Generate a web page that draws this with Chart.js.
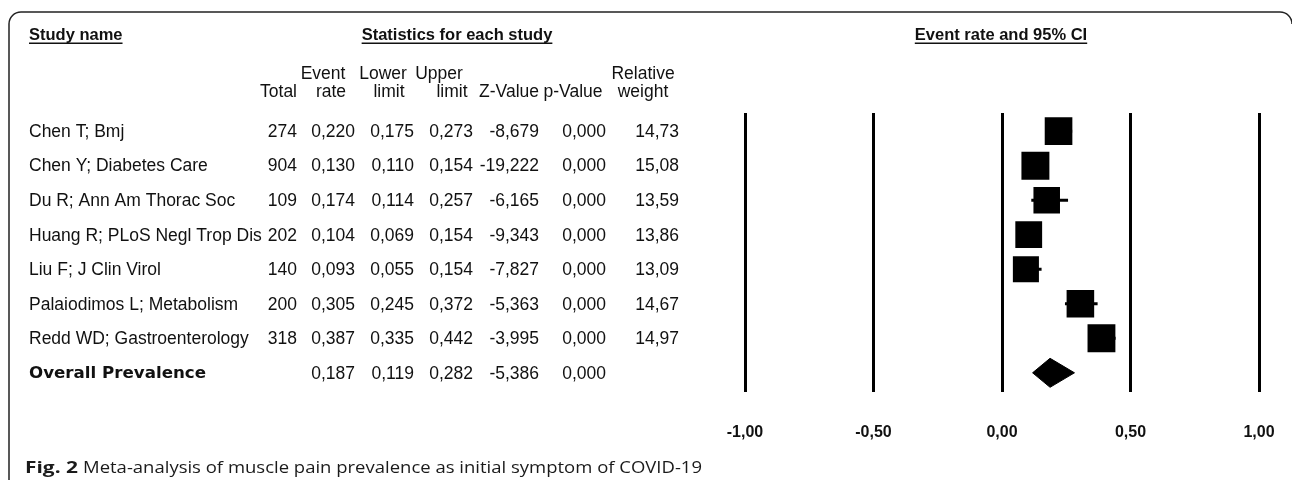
<!DOCTYPE html>
<html>
<head>
<meta charset="utf-8">
<script src="https://cdn.jsdelivr.net/npm/chart.js@4.4.1/dist/chart.umd.min.js"></script>
<style>
html,body{margin:0;padding:0;background:#fff;overflow:hidden}
canvas{display:block}
</style>
</head>
<body>
<canvas id="c" width="1292" height="480" style="width:1292px;height:480px"></canvas>
<script>
// ---- data ----
const studyNames = [
  'Chen T; Bmj',
  'Chen Y; Diabetes Care',
  'Du R; Ann Am Thorac Soc',
  'Huang R; PLoS Negl Trop Dis',
  'Liu F; J Clin Virol',
  'Palaiodimos L; Metabolism',
  'Redd WD; Gastroenterology'
];
const totals = [274, 904, 109, 202, 140, 200, 318];
const eventRates = [0.220, 0.130, 0.174, 0.104, 0.093, 0.305, 0.387];
const lowerLimits = [0.175, 0.110, 0.114, 0.069, 0.055, 0.245, 0.335];
const upperLimits = [0.273, 0.154, 0.257, 0.154, 0.154, 0.372, 0.442];
const zValues = [-8.679, -19.222, -6.165, -9.343, -7.827, -5.363, -3.995];
const pValues = [0.000, 0.000, 0.000, 0.000, 0.000, 0.000, 0.000];
const relWeights = [14.73, 15.08, 13.59, 13.86, 13.09, 14.67, 14.97];
const overallLabel = 'Overall Prevalence';
const overallRate = 0.187;
const overallLower = 0.119;
const overallUpper = 0.282;
const overallZ = -5.386;
const overallP = 0.000;
const tickValues = [-1, -0.5, 0, 0.5, 1];
const tickLabels = ['-1,00', '-0,50', '0,00', '0,50', '1,00'];

// ---- helpers ----
const fmt3 = v => v.toFixed(3).replace('.', ',');
const fmt2 = v => v.toFixed(2).replace('.', ',');
const INK = '#111';
const overallRow = studyNames.length;

// ---- datasets ----
const datasets = [];
studyNames.forEach((n, i) => {
  datasets.push({
    label: 'ci' + i,
    data: [{x: lowerLimits[i], y: i}, {x: upperLimits[i], y: i}],
    showLine: true,
    borderColor: '#000',
    borderWidth: 3,
    pointRadius: 0,
    tension: 0,
    fill: false
  });
});
datasets.push({
  label: 'studies',
  data: eventRates.map((v, i) => ({x: v, y: i})),
  pointStyle: 'rect',
  pointRadius: relWeights.map(w => 7.2 * Math.sqrt(w) / Math.SQRT2),
  backgroundColor: '#000',
  borderWidth: 0,
  showLine: false
});
const dh = 0.42;
datasets.push({
  label: 'overall',
  data: [
    {x: overallLower, y: overallRow},
    {x: overallRate, y: overallRow - dh},
    {x: overallUpper, y: overallRow},
    {x: overallRate, y: overallRow + dh},
    {x: overallLower, y: overallRow}
  ],
  showLine: true,
  tension: 0,
  borderColor: '#000',
  borderWidth: 1,
  backgroundColor: '#000',
  fill: 'shape',
  pointRadius: 0
});

// ---- text/table plugin ----
function fitText(ctx, text, x, y, width, align) {
  const m = ctx.measureText(text).width;
  const s = width / m;
  ctx.save();
  ctx.textAlign = 'left';
  let x0 = x;
  if (align === 'center') x0 = x - width / 2;
  else if (align === 'right') x0 = x - width;
  ctx.translate(x0, y);
  ctx.scale(s, 1);
  ctx.fillText(text, 0, 0);
  ctx.restore();
}
function underlined(ctx, text, x, y, align) {
  ctx.textAlign = align;
  ctx.fillText(text, x, y);
  const w = ctx.measureText(text).width;
  let x0 = x;
  if (align === 'center') x0 = x - w / 2;
  else if (align === 'right') x0 = x - w;
  ctx.fillRect(x0, y + 7.5, w, 1.5);
}

const tablePlugin = {
  id: 'table',
  beforeDraw(chart) {
    const ctx = chart.ctx;
    ctx.save();
    ctx.fillStyle = '#fff';
    ctx.fillRect(0, 0, chart.width, chart.height);
    ctx.restore();
  },
  afterDraw(chart) {
    const ctx = chart.ctx;
    const ys = chart.scales.y;
    ctx.save();
    // frame
    ctx.strokeStyle = '#222';
    ctx.lineWidth = 1.5;
    ctx.beginPath();
    ctx.moveTo(9, 482);
    ctx.lineTo(9, 24);
    ctx.arcTo(9, 12, 21, 12, 12);
    ctx.lineTo(1280, 12);
    ctx.arcTo(1292, 12, 1292, 24, 12);
    ctx.stroke();

    ctx.fillStyle = INK;
    ctx.textBaseline = 'middle';
    // headers
    ctx.font = 'bold 16.5px "Liberation Sans", Arial, sans-serif';
    underlined(ctx, 'Study name', 29, 35, 'left');
    underlined(ctx, 'Statistics for each study', 457, 35, 'center');
    underlined(ctx, 'Event rate and 95% CI', 1001, 35, 'center');

    ctx.font = '17.5px "Liberation Sans", Arial, sans-serif';
    ctx.textAlign = 'center';
    const h1 = 74, h2 = 92;
    ctx.fillText('Event', 323, h1);
    ctx.fillText('rate', 331, h2);
    ctx.fillText('Lower', 383, h1);
    ctx.fillText('limit', 389, h2);
    ctx.fillText('Upper', 439, h1);
    ctx.fillText('limit', 452, h2);
    ctx.fillText('Z-Value', 509, h2);
    ctx.fillText('p-Value', 573, h2);
    ctx.fillText('Relative', 643, h1);
    ctx.fillText('weight', 643, h2);
    ctx.textAlign = 'right';
    ctx.fillText('Total', 297, h2);

    // rows
    const colR = [297, 355, 414, 473, 539, 606, 679];
    studyNames.forEach((n, i) => {
      const y = ys.getPixelForValue(i) + 1;
      ctx.textAlign = 'left';
      ctx.fillText(n, 29, y);
      ctx.textAlign = 'right';
      const cells = [String(totals[i]), fmt3(eventRates[i]), fmt3(lowerLimits[i]),
        fmt3(upperLimits[i]), fmt3(zValues[i]), fmt3(pValues[i]), fmt2(relWeights[i])];
      cells.forEach((c, k) => ctx.fillText(c, colR[k], y));
    });
    const yo = ys.getPixelForValue(overallRow) + 1;
    ctx.textAlign = 'right';
    [fmt3(overallRate), fmt3(overallLower), fmt3(overallUpper), fmt3(overallZ), fmt3(overallP)]
      .forEach((c, k) => ctx.fillText(c, colR[k + 1], yo));
    ctx.font = 'bold 16px "DejaVu Sans", Verdana, sans-serif';
    fitText(ctx, overallLabel, 29, yo, 177, 'left');

    // caption
    ctx.fillStyle = '#1a1a1a';
    const capY = 468;
    ctx.font = 'bold 16.5px "Open Sans", "Noto Sans", sans-serif';
    fitText(ctx, 'Fig. 2', 25, capY, 53, 'left');
    ctx.font = '16.5px "Open Sans", "Noto Sans", sans-serif';
    fitText(ctx, 'Meta-analysis of muscle pain prevalence as initial symptom of COVID-19', 83, capY, 619, 'left');
    ctx.restore();
  }
};

new Chart(document.getElementById('c'), {
  type: 'scatter',
  data: {datasets},
  plugins: [tablePlugin],
  options: {
    responsive: false,
    animation: false,
    devicePixelRatio: 1,
    layout: {padding: {left: 745, right: 33, top: 113, bottom: 7}},
    plugins: {legend: {display: false}, tooltip: {enabled: false}},
    scales: {
      x: {
        type: 'linear',
        min: -1,
        max: 1,
        afterBuildTicks: axis => { axis.ticks = tickValues.map(v => ({value: v})); },
        afterFit: axis => { axis.paddingLeft = 0; axis.paddingRight = 0; },
        ticks: {
          callback: (v, i) => tickLabels[i],
          color: INK,
          font: {family: '"Liberation Sans", Arial, sans-serif', size: 16, weight: 'bold'},
          padding: 31,
          maxRotation: 0,
          autoSkip: false
        },
        grid: {color: '#000', lineWidth: 3, drawTicks: false},
        border: {display: false}
      },
      y: {
        type: 'linear',
        reverse: true,
        min: -0.525,
        max: 7.55,
        display: false
      }
    }
  }
});
</script>
</body>
</html>
